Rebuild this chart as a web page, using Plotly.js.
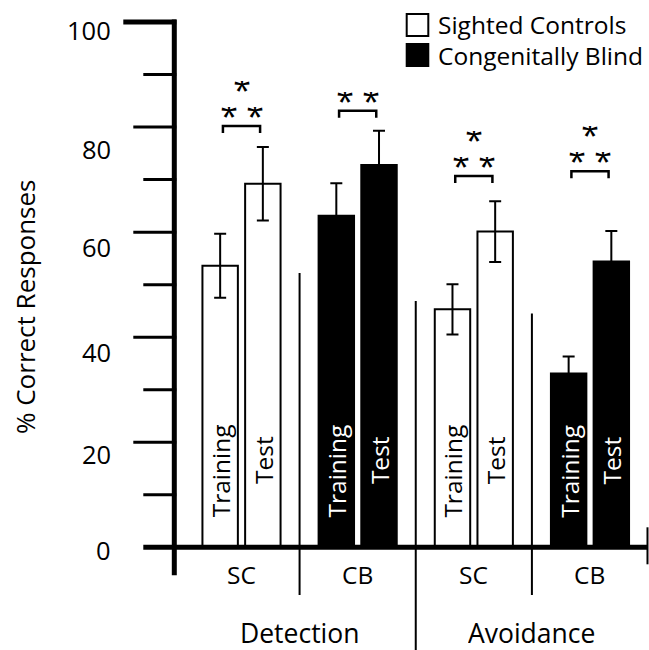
<!DOCTYPE html>
<html><head><meta charset="utf-8">
<script src="https://cdn.plot.ly/plotly-3.0.1.min.js"></script>
<style>html,body{margin:0;padding:0;background:#fff}#chart{width:649px;height:650px}</style>
</head><body><div id="chart"></div>
<script>
// ---------------- data ----------------
const taskGroups = ['Detection', 'Avoidance'];
const subjectGroups = ['SC', 'CB', 'SC', 'CB'];
const subjectIsBlind = [false, true, false, true];
const conditionNames = ['Training', 'Test'];
const trainingMean = [53.6, 63.1, 45.3, 33.1];
const trainingErr = [6.1, 6.2, 4.8, 3.2];
const testMean = [69.2, 72.8, 60.1, 54.4];
const testErr = [7.0, 6.5, 5.8, 5.8];
const bracketLevel = [80.2, 83.1, 70.7, 71.6];
const starCount = [3, 2, 3, 3];
const yTickValues = [0, 10, 20, 30, 40, 50, 60, 70, 80, 90, 100];
const yLabelValues = [0, 20, 40, 60, 80, 100];
const yLabelTexts = ['0', '20', '40', '60', '80', '100'];
const yTitle = '% Correct Responses';
const legendLabels = ['Sighted Controls', 'Congenitally Blind'];

// ---------------- layout constants ----------------
const W = 649, H = 650;
const xRange = [-2.079, 3.508];
const yRange = [-19.55, 104.19];
const pxX = W / (xRange[1] - xRange[0]);
const pxY = H / (yRange[1] - yRange[0]);
const xOff = (x, p) => x + p / pxX;
const yOff = (y, p) => y + p / pxY;
const BARGAP = 0.265, BARGROUPGAP = 0.17;
const barShift = (1 - BARGAP) / 4;
const yAxisX = -0.5785;
const xAxisEnd = 3.495;
const sepX = [0.5, 1.5, 2.5];
const sepTop = [52.2, 46.9, 44.5];
const sepBottom = [-9.1, -19.6, -9.1];
const labelNudge = [-3, -12, -15, -15, -22, -8];
const FONT = 'Open Sans, Noto Sans, sans-serif';
const BLACK = '#000000', WHITE = '#ffffff';
const catX = subjectGroups.map((_, i) => i);
const fills = subjectIsBlind.map(b => b ? BLACK : WHITE);

const barTrace = (mean, err, name) => ({
  type: 'bar', x: catX, y: mean, name: name,
  marker: {color: fills, line: {color: BLACK, width: 2}},
  error_y: {type: 'data', array: err, visible: true, color: BLACK, thickness: 2, width: 6},
  showlegend: false, hoverinfo: 'skip'
});
const traces = [
  barTrace(trainingMean, trainingErr, conditionNames[0]),
  barTrace(testMean, testErr, conditionNames[1])
];

const shapes = [];
const annotations = [];
const line = (o, w) => Object.assign({type: 'line', line: {color: BLACK, width: w}}, o);

// y axis
shapes.push(line({xref: 'x', yref: 'y', x0: yAxisX, x1: yAxisX, y0: yOff(0, -28), y1: yOff(100, 2.5)}, 5));
yTickValues.filter(v => v > 0).forEach(v => {
  const len = v === 100 ? 51 : (v % 20 === 0 ? 41 : 31);
  shapes.push(line({xref: 'x', yref: 'y', xsizemode: 'pixel', xanchor: yAxisX,
    x0: -len, x1: 2, y0: v, y1: v}, v === 100 ? 5 : 3));
});
// x axis
shapes.push(line({xref: 'x', yref: 'y', x0: xOff(yAxisX, -31), x1: xAxisEnd, y0: 0, y1: 0}, 5));
shapes.push(line({xref: 'x', yref: 'y', x0: xAxisEnd, x1: xAxisEnd, y0: yOff(0, 20), y1: yOff(0, -17)}, 2));
// separators
sepX.forEach((s, i) => shapes.push(line({xref: 'x', yref: 'y', x0: s, x1: s, y0: sepBottom[i], y1: sepTop[i]}, 2)));

// y labels
yLabelValues.forEach((v, i) => annotations.push({
  xref: 'x', yref: 'y', x: yAxisX, y: v, xshift: -61, yshift: labelNudge[i],
  xanchor: 'right', yanchor: 'middle', showarrow: false, text: yLabelTexts[i],
  font: {family: FONT, size: 25.5, color: BLACK}
}));
// y title
annotations.push({xref: 'paper', yref: 'paper', x: 25 / W, y: 1 - 307 / H, textangle: -90,
  showarrow: false, text: yTitle, font: {family: FONT, size: 26, color: BLACK},
  xanchor: 'center', yanchor: 'middle'});

// category & group labels
subjectGroups.forEach((g, i) => annotations.push({xref: 'x', yref: 'y', x: i, y: 0, yshift: -27,
  showarrow: false, text: g, font: {family: FONT, size: 24.5, color: BLACK}}));
taskGroups.forEach((g, i) => annotations.push({xref: 'x', yref: 'y', x: 2 * i + 0.5, y: 0, yshift: -86,
  height: 30, showarrow: false, text: g, font: {family: FONT, size: 26.5, color: BLACK}}));

// in-bar condition labels
catX.forEach((c, i) => {
  const col = subjectIsBlind[i] ? WHITE : BLACK;
  annotations.push({xref: 'x', yref: 'y', x: c - barShift, y: 14.5, textangle: -90, showarrow: false,
    text: conditionNames[0], font: {family: FONT, size: 24.5, color: col}});
  annotations.push({xref: 'x', yref: 'y', x: c + barShift, y: 16.6, textangle: -90, showarrow: false,
    text: conditionNames[1], font: {family: FONT, size: 24.5, color: col}});
});

// significance brackets and stars
catX.forEach((c, i) => {
  const yb = bracketLevel[i], yl = yOff(yb, -7);
  const xl = c - 0.16, xr = c + 0.16;
  shapes.push({type: 'path', xref: 'x', yref: 'y',
    path: `M ${xl},${yl} L ${xl},${yb} L ${xr},${yb} L ${xr},${yl}`,
    line: {color: BLACK, width: 2.5}});
  const stars = (txt, dy, w) => annotations.push({xref: 'x', yref: 'y', x: c, y: yb, yshift: dy,
    width: w, height: 16, showarrow: false, text: txt, font: {family: FONT, size: 32, color: BLACK}});
  stars('* *', 11, 42);
  if (starCount[i] === 3) stars('*', 37, 16);
});

// legend
legendLabels.forEach((lab, i) => {
  const top = 14 + i * 30;
  shapes.push({type: 'rect', xref: 'paper', yref: 'paper', x0: 406.7 / W, x1: 428.3 / W,
    y0: 1 - top / H, y1: 1 - (top + 22) / H, fillcolor: i ? BLACK : WHITE, line: {color: BLACK, width: 2}});
  annotations.push({xref: 'paper', yref: 'paper', x: 436 / W, y: 1 - (top + 11) / H, xanchor: 'left',
    yanchor: 'middle', showarrow: false, text: lab, font: {family: FONT, size: 24.5, color: BLACK}});
});

const layout = {
  width: W, height: H, margin: {l: 0, r: 0, t: 0, b: 0, pad: 0},
  paper_bgcolor: WHITE, plot_bgcolor: WHITE,
  barmode: 'group', bargap: BARGAP, bargroupgap: BARGROUPGAP,
  xaxis: {visible: false, range: xRange, type: 'linear', fixedrange: true},
  yaxis: {visible: false, range: yRange, fixedrange: true},
  shapes: shapes, annotations: annotations, showlegend: false
};
Plotly.newPlot('chart', traces, layout, {staticPlot: true, displayModeBar: false});
</script>
</body></html>
